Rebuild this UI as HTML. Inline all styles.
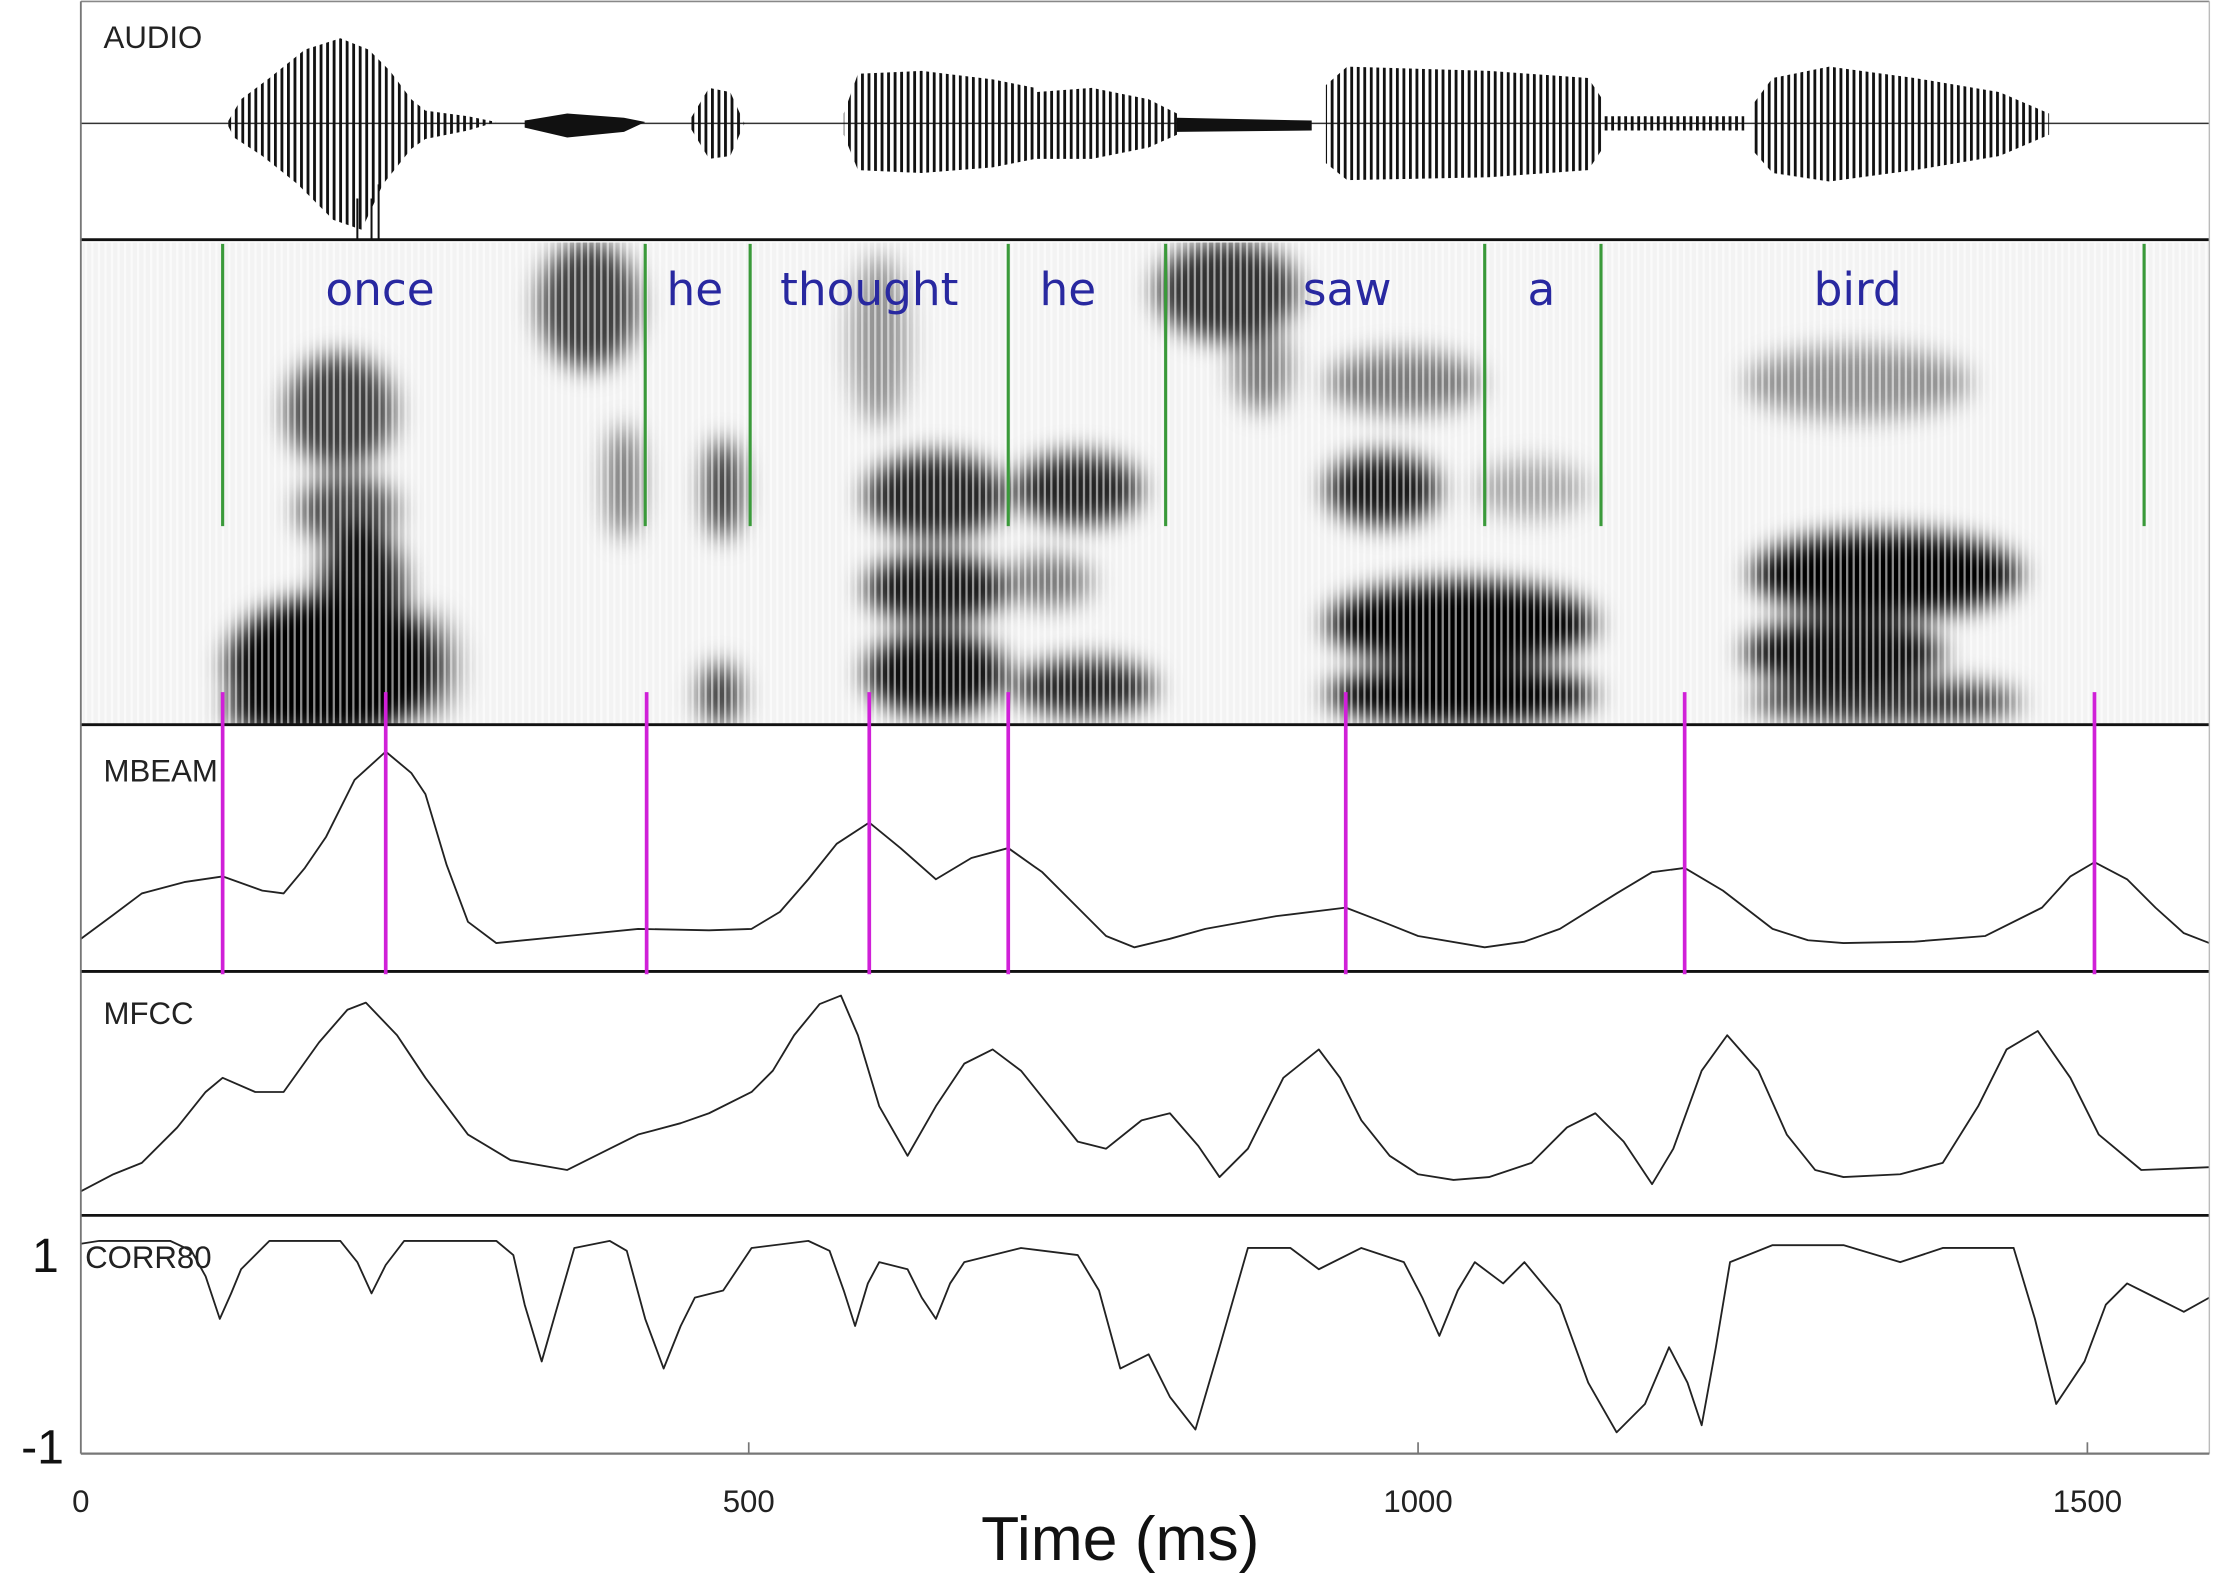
<!DOCTYPE html>
<html><head><meta charset="utf-8"><style>
html,body{margin:0;padding:0;background:#fff;}
svg{display:block;}
</style></head><body>
<svg width="2217" height="1596" viewBox="0 0 1563.4 1125.4" preserveAspectRatio="none" xmlns="http://www.w3.org/2000/svg">
<defs>
<filter id="b8" x="-50%" y="-50%" width="200%" height="200%"><feGaussianBlur stdDeviation="9"/></filter>
<pattern id="stri" width="4.6" height="20" patternUnits="userSpaceOnUse"><rect x="0" y="0" width="1.6" height="20" fill="#fff" opacity="0.55"/></pattern>
<pattern id="wav" width="4.6" height="20" patternUnits="userSpaceOnUse"><rect x="0" y="0" width="2" height="20" fill="#111"/></pattern>
<clipPath id="spc"><rect x="58" y="171" width="1500" height="340"/></clipPath>
</defs>
<rect width="1563.4" height="1125.4" fill="#fff"/>
<g clip-path="url(#spc)">
<rect x="58" y="171" width="1500" height="340" fill="#f3f3f3"/>
<g filter="url(#b8)" fill="#000">
 <ellipse cx="235" cy="470" rx="75" ry="50"/>
 <ellipse cx="255" cy="420" rx="30" ry="50" opacity="0.95"/>
 <ellipse cx="240" cy="290" rx="38" ry="40" opacity="0.75"/>
 <ellipse cx="245" cy="360" rx="35" ry="25" opacity="0.7"/>
 <ellipse cx="200" cy="500" rx="40" ry="20" opacity="0.9"/>
 <ellipse cx="300" cy="470" rx="25" ry="40" opacity="0.35"/>
 <ellipse cx="415" cy="215" rx="35" ry="45" opacity="0.75"/>
 <ellipse cx="440" cy="340" rx="12" ry="40" opacity="0.55"/>
 <ellipse cx="510" cy="345" rx="12" ry="35" opacity="0.85"/>
 <ellipse cx="508" cy="490" rx="14" ry="22" opacity="0.8"/>
 <ellipse cx="620" cy="240" rx="20" ry="60" opacity="0.4"/>
 <ellipse cx="660" cy="350" rx="50" ry="30" opacity="0.85"/>
 <ellipse cx="660" cy="415" rx="50" ry="25" opacity="0.9"/>
 <ellipse cx="660" cy="475" rx="50" ry="30" opacity="0.95"/>
 <ellipse cx="760" cy="345" rx="45" ry="25" opacity="0.85"/>
 <ellipse cx="740" cy="410" rx="30" ry="18" opacity="0.5"/>
 <ellipse cx="765" cy="485" rx="50" ry="20" opacity="0.85"/>
 <ellipse cx="865" cy="205" rx="50" ry="35" opacity="0.8"/>
 <ellipse cx="890" cy="260" rx="20" ry="30" opacity="0.5"/>
 <ellipse cx="990" cy="270" rx="55" ry="22" opacity="0.5"/>
 <ellipse cx="975" cy="345" rx="40" ry="25" opacity="0.9"/>
 <ellipse cx="1080" cy="345" rx="40" ry="20" opacity="0.3"/>
 <ellipse cx="1030" cy="440" rx="95" ry="30"/>
 <ellipse cx="1030" cy="490" rx="95" ry="22"/>
 <ellipse cx="1310" cy="270" rx="80" ry="25" opacity="0.4"/>
 <ellipse cx="1330" cy="405" rx="95" ry="30"/>
 <ellipse cx="1300" cy="460" rx="70" ry="25" opacity="0.95"/>
 <ellipse cx="1330" cy="495" rx="95" ry="16" opacity="0.8"/>
</g>
<rect x="58" y="171" width="1500" height="340" fill="url(#stri)"/>
</g>
<g font-family="'Gill Sans','DejaVu Sans','Liberation Sans',sans-serif" font-size="32" fill="#2828a0" text-anchor="middle">
<text x="268" y="215">once</text><text x="490" y="215">he</text><text x="613" y="215">thought</text><text x="753" y="215">he</text><text x="950" y="215">saw</text><text x="1087" y="215">a</text><text x="1310" y="215">bird</text>
</g>
<g stroke="#3a9a3a" stroke-width="2.2">
<line x1="157" y1="172" x2="157" y2="371"/><line x1="455" y1="172" x2="455" y2="371"/><line x1="529" y1="172" x2="529" y2="371"/><line x1="711" y1="172" x2="711" y2="371"/><line x1="822" y1="172" x2="822" y2="371"/><line x1="1047" y1="172" x2="1047" y2="371"/><line x1="1129" y1="172" x2="1129" y2="371"/><line x1="1512" y1="172" x2="1512" y2="371"/>
</g>
<!-- audio -->
<line x1="57" y1="87" x2="1558" y2="87" stroke="#333" stroke-width="1"/>
<g fill="url(#wav)">
<polygon points="160,87 170,70 190,55 215,35 240,27 260,35 275,50 290,70 300,78 330,82 350,86 330,92 300,98 290,105 270,130 255,162 235,155 210,130 185,110 165,97"/>
<polygon points="485,87 500,62 515,65 525,87 515,110 500,112"/>
<polygon points="595,80 605,52 650,50 700,56 730,62 730,112 700,118 650,122 605,120 595,95"/>
<polygon points="730,65 770,62 810,70 830,80 830,95 810,104 770,112 730,112"/>
<polygon points="935,60 950,47 1050,50 1120,55 1130,70 1130,105 1120,120 1050,125 950,127 935,115"/>
<polygon points="1130,82 1230,82 1230,92 1130,92"/>
<polygon points="1235,75 1250,55 1290,47 1350,55 1410,65 1445,80 1445,95 1410,110 1350,120 1290,128 1250,122 1235,105"/>
</g>
<g fill="#111">
<polygon points="370,85 400,80 440,83 455,86 440,93 400,97 370,90"/>
<polygon points="830,83 925,85 925,92 830,93"/>
</g>
<path d="M252,140L252,169M262,140L262,169M267,130L267,169" stroke="#111" stroke-width="1.4"/>
<!-- curves -->
<g fill="none" stroke="#222" stroke-width="1.3" stroke-linejoin="round">
<polyline points="57,662 80,645 100,630 130,622 157,618 185,628 200,630 215,612 230,590 250,550 272,530 290,545 300,560 315,610 330,650 350,665 400,660 450,655 500,656 530,655 550,643 570,620 590,595 613,580 635,598 660,620 685,605 711,598 735,615 760,640 780,660 800,668 825,662 850,655 900,646 949,640 975,650 1000,660 1047,668 1075,664 1100,655 1140,630 1165,615 1188,612 1215,628 1250,655 1275,663 1300,665 1350,664 1400,660 1440,640 1460,618 1477,608 1500,620 1520,640 1540,658 1558,665"/>
<polyline points="57,840 80,828 100,820 125,795 145,770 157,760 180,770 200,770 225,735 245,712 258,707 280,730 300,760 330,800 360,818 400,825 430,810 450,800 480,792 500,785 530,770 545,755 560,730 578,708 593,702 605,730 620,780 640,815 660,780 680,750 700,740 720,755 740,780 760,805 780,810 805,790 825,785 845,808 860,830 880,810 905,760 930,740 945,760 960,790 980,815 1000,828 1025,832 1050,830 1080,820 1105,795 1125,785 1145,805 1165,835 1180,810 1200,755 1218,730 1240,755 1260,800 1280,825 1300,830 1340,828 1370,820 1395,780 1415,740 1437,727 1460,760 1480,800 1510,825 1558,823"/>
<polyline points="57,877 70,875 120,875 135,882 145,900 155,930 163,912 170,895 190,875 240,875 252,890 262,912 272,892 285,875 350,875 362,885 370,920 382,960 392,925 405,880 430,875 442,882 455,930 468,965 480,935 490,915 510,910 520,895 530,880 570,875 585,882 595,910 603,935 612,905 620,890 640,895 650,915 660,930 670,905 680,890 720,880 760,885 775,910 790,965 810,955 825,985 843,1008 860,950 880,880 910,880 930,895 960,880 990,890 1003,915 1015,942 1028,910 1040,890 1060,905 1075,890 1100,920 1120,975 1140,1010 1160,990 1177,950 1190,975 1200,1005 1210,950 1220,890 1250,878 1300,878 1340,890 1370,880 1420,880 1435,930 1450,990 1470,960 1485,920 1500,905 1520,915 1540,925 1558,915"/>
</g>
<g stroke="#111" stroke-width="2">
<line x1="57" y1="169" x2="1558" y2="169"/><line x1="57" y1="511" x2="1558" y2="511"/><line x1="57" y1="685" x2="1558" y2="685"/><line x1="57" y1="857" x2="1558" y2="857"/>
</g>
<line x1="57" y1="1" x2="1558" y2="1" stroke="#888" stroke-width="1.2"/>
<line x1="57" y1="1" x2="57" y2="1025" stroke="#777" stroke-width="1.3"/>
<line x1="1558" y1="1" x2="1558" y2="1025" stroke="#bbb" stroke-width="1"/>
<line x1="57" y1="1025" x2="1558" y2="1025" stroke="#777" stroke-width="1.6"/>
<g stroke="#777" stroke-width="1.2"><line x1="528" y1="1025" x2="528" y2="1017"/><line x1="1000" y1="1025" x2="1000" y2="1017"/><line x1="1472" y1="1025" x2="1472" y2="1017"/></g>
<g stroke="#d020d8" stroke-width="2.6">
<line x1="157" y1="488" x2="157" y2="687"/><line x1="272" y1="488" x2="272" y2="687"/><line x1="456" y1="488" x2="456" y2="687"/><line x1="613" y1="488" x2="613" y2="687"/><line x1="711" y1="488" x2="711" y2="687"/><line x1="949" y1="488" x2="949" y2="687"/><line x1="1188" y1="488" x2="1188" y2="687"/><line x1="1477" y1="488" x2="1477" y2="687"/>
</g>
<g font-family="'Liberation Sans',sans-serif" font-size="22" fill="#222">
<text x="73" y="34">AUDIO</text><text x="73" y="551">MBEAM</text><text x="73" y="722">MFCC</text><text x="60" y="894">CORR80</text>
</g>
<g font-family="'Liberation Sans',sans-serif" fill="#111">
<text x="32" y="897" font-size="34" text-anchor="middle">1</text>
<text x="30" y="1032" font-size="34" text-anchor="middle">-1</text>
<g font-size="22" text-anchor="middle" fill="#222"><text x="57" y="1066">0</text><text x="528" y="1066">500</text><text x="1000" y="1066">1000</text><text x="1472" y="1066">1500</text></g>
<text x="790" y="1100" font-size="44" text-anchor="middle">Time (ms)</text>
</g>
</svg>
</body></html>
